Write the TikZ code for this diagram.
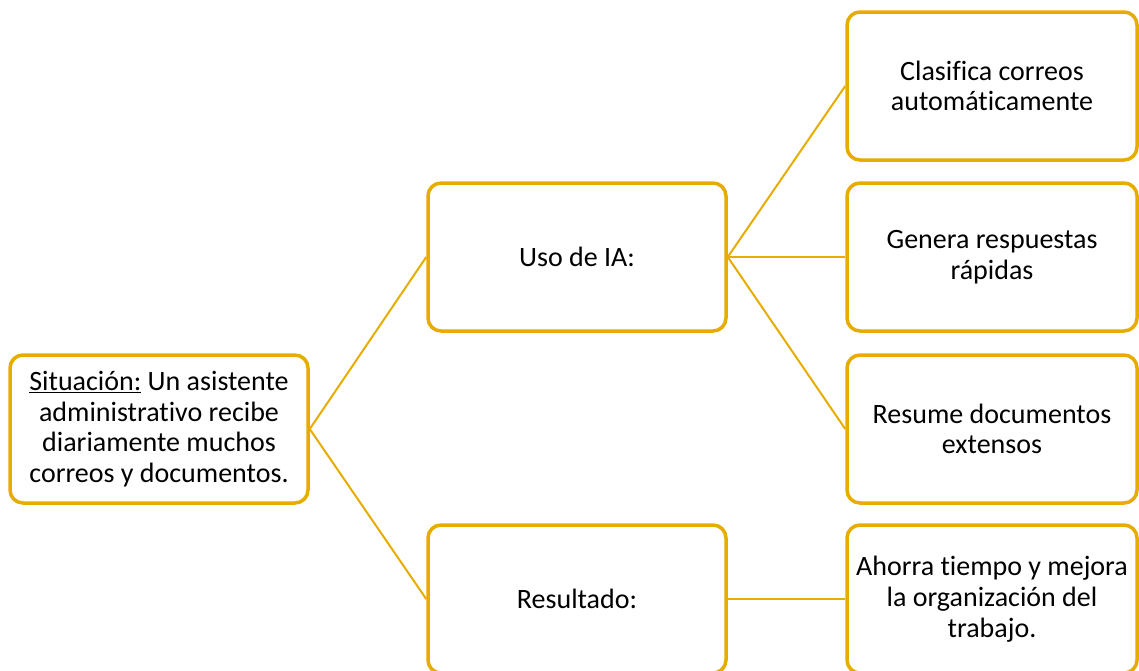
\documentclass[tikz,border=0pt]{standalone}
\usepackage{fontspec}
\setmainfont[Ligatures=NoCommon]{Carlito}
\definecolor{gold}{RGB}{230,173,0}
\tikzset{
  box/.style={draw=gold, line width=3.5pt, rounded corners=13pt, fill=white,
    minimum width=298pt, minimum height=148pt, align=center,
    font=\fontsize{28}{30.7}\selectfont},
  rbox/.style={box, minimum width=290pt},
  link/.style={draw=gold, line width=2pt}
}
\begin{document}
\begin{tikzpicture}[x=1pt, y=-1pt]
  \useasboundingbox (0,0) rectangle (1139,670);
  \draw
    (159,429) node[box] (sit){\underline{Situación:} Un asistente\\administrativo recibe\\diariamente muchos\\correos y documentos.}
    (577,257) node[box] (uso){Uso de IA:}
    (577,599) node[box] (res){Resultado:}
    (992,86) node[rbox] (c1){Clasifica correos\\automáticamente}
    (992,257) node[rbox] (c2){Genera respuestas\\rápidas}
    (992,429) node[rbox] (c3){Resume documentos\\extensos}
    (992,599) node[rbox] (c4){Ahorra tiempo y mejora\\la organización del\\trabajo.};
  \begin{scope}[link]
    \draw (sit.east) to (uso.west);
    \draw (sit.east) to (res.west);
    \draw (uso.east) to (c1.west);
    \draw (uso.east) to (c2.west);
    \draw (uso.east) to (c3.west);
    \draw (res.east) to (c4.west);
  \end{scope}
\end{tikzpicture}
\end{document}
